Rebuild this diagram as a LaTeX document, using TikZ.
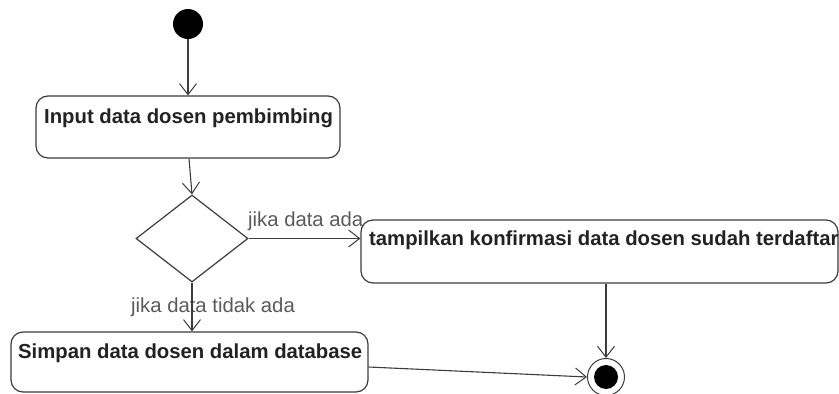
\documentclass[tikz,border=0pt]{standalone}
\usepackage{fontspec}
\setmainfont{Liberation Sans}
\usetikzlibrary{shapes.geometric,arrows.meta}
\definecolor{linec}{HTML}{3C3C3C}
\definecolor{txtc}{HTML}{222222}
\definecolor{lblc}{HTML}{5A5A5A}
\begin{document}
\begin{tikzpicture}[x=1pt,y=-1pt,
  actbox/.style={draw=linec,line width=1.2pt,rounded corners=12pt,rectangle,inner sep=0pt,fill=white},
  acttext/.style={anchor=base west,inner sep=0pt,text=txtc,font=\fontsize{20.3}{24}\selectfont\bfseries},
  guard/.style={inner sep=0pt,text=lblc,font=\fontsize{20.3}{24}\selectfont},
  flow/.style={draw=linec,line width=1.1pt,-{Straight Barb[length=11pt,width=17pt,line width=1pt]}},
  decision/.style={draw=linec,line width=1.2pt,diamond,inner sep=0pt,minimum width=112pt,minimum height=87pt},
  startnode/.style={circle,fill=black,inner sep=0pt,minimum size=30pt},
  endouter/.style={circle,draw=linec,line width=1pt,fill=white,inner sep=0pt,minimum size=37pt},
  endinner/.style={circle,fill=black,inner sep=0pt,minimum size=24pt}]
\useasboundingbox (0,0) rectangle (839,394);
\node[startnode] (s) at (188,24) {};
\node[actbox,minimum width=304pt,minimum height=62pt] (a1) at (188,127) {};
\node[acttext] (t1) at (44,123) {Input data dosen pembimbing};
\node[decision] (d) at (192,238.5) {};
\node[actbox,minimum width=477pt,minimum height=63pt] (a2) at (599.5,251.5) {};
\node[acttext] (t2) at (369,245) {tampilkan konfirmasi data dosen sudah terdaftar};
\node[actbox,minimum width=357pt,minimum height=60pt] (a3) at (189.5,362) {};
\node[acttext] (t3) at (18,358) {Simpan data dosen dalam database};
\node[endouter] (f) at (606,377) {};
\node[endinner] (fi) at (f) {};
\node[guard,anchor=base west] (g1) at (248,226) {jika data ada};
\node[guard,anchor=base west] (g2) at (131,312) {jika data tidak ada};
\draw[flow] (s.south) -- (s.south |- a1.north);
\draw[flow] ([xshift=1pt]a1.south) -- (d.north);
\draw[flow] (d.east) -- (a2.west |- d.east);
\draw[flow] (d.south) -- (d.south |- a3.north);
\draw[flow] (f.north |- a2.south) -- (f.north);
\draw[flow] ([yshift=-5pt]a3.east) -- (f.west);
\end{tikzpicture}
\end{document}
